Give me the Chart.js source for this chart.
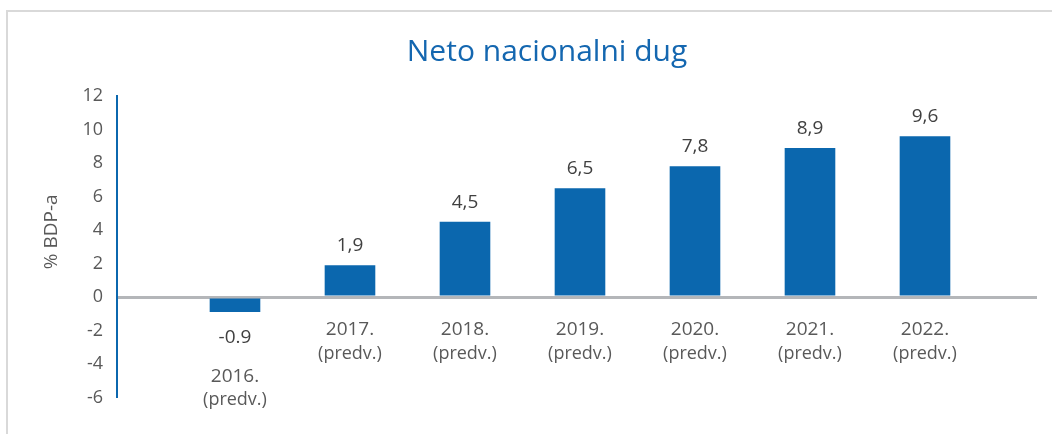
<!DOCTYPE html>
<html>
<head>
<meta charset="utf-8">
<script src="https://cdn.jsdelivr.net/npm/chart.js@4.4.1/dist/chart.umd.min.js"></script>
<style>
html, body { margin: 0; padding: 0; background: #ffffff; overflow: hidden; }
#wrap { position: relative; width: 1052px; height: 434px; }
#frame { position: absolute; left: 6px; top: 10px; width: 1100px; height: 500px;
  border-left: 2px solid #D9D9D9; border-top: 2px solid #D9D9D9; }
canvas { position: absolute; left: 0; top: 0; }
</style>
</head>
<body>
<div id="wrap"><div id="frame"></div><canvas id="c" width="1052" height="434"></canvas></div>
<script>
const chartTitle = 'Neto nacionalni dug';
const yAxisTitle = '% BDP-a';
const categories = ['2016.', '2017.', '2018.', '2019.', '2020.', '2021.', '2022.'];
const categoryNotes = ['(predv.)', '(predv.)', '(predv.)', '(predv.)', '(predv.)', '(predv.)', '(predv.)'];
const values = [-0.9, 1.9, 4.5, 6.5, 7.8, 8.9, 9.6];
const valueLabels = ['-0.9', '1,9', '4,5', '6,5', '7,8', '8,9', '9,6'];
const yTicks = [-6, -4, -2, 0, 2, 4, 6, 8, 10, 12];

const FONT = '"Open Sans", "Noto Sans", sans-serif';
const BAR_BLUE = '#0B67AE';
const TITLE_BLUE = '#1467B0';
const TEXT_GREY = '#595959';
const LABEL_GREY = '#404040';

const labelPlugin = {
  id: 'barLabels',
  afterDatasetsDraw(chart) {
    const ctx = chart.ctx;
    const meta = chart.getDatasetMeta(0);
    const yScale = chart.scales.y;
    const zero = yScale.getPixelForValue(0);
    ctx.save();
    ctx.textAlign = 'center';
    ctx.textBaseline = 'middle';
    meta.data.forEach((bar, i) => {
      const v = values[i];
      const px = bar.x;
      let labelY, yearY;
      if (v >= 0) {
        labelY = bar.y - 19.5;
        yearY = zero + 33;
      } else {
        labelY = bar.y + 26;
        yearY = labelY + 39;
      }
      ctx.font = '19px ' + FONT;
      ctx.fillStyle = LABEL_GREY;
      ctx.fillText(valueLabels[i], px, labelY);
      ctx.fillStyle = TEXT_GREY;
      ctx.fillText(categories[i], px, yearY);
      ctx.font = '18px ' + FONT;
      ctx.fillText(categoryNotes[i], px, yearY + (v >= 0 ? 24 : 22.5));
    });
    // y-axis title
    const ca = chart.chartArea;
    ctx.translate(52, (ca.top + ca.bottom) / 2 - 15);
    ctx.rotate(-Math.PI / 2);
    ctx.font = '19px ' + FONT;
    ctx.fillStyle = TEXT_GREY;
    ctx.fillText(yAxisTitle, 0, 0);
    ctx.restore();
  }
};

function build() {
  new Chart(document.getElementById('c'), {
    type: 'bar',
    data: {
      datasets: [{
        data: categories.map((c, i) => ({ x: i + 1, y: values[i] })),
        backgroundColor: BAR_BLUE,
        borderWidth: 0,
        barPercentage: 0.452,
        categoryPercentage: 1.0
      }]
    },
    options: {
      responsive: false,
      animation: false,
      devicePixelRatio: 1,
      layout: { padding: { left: 57, right: 15, top: 0, bottom: 36.5 } },
      plugins: {
        legend: { display: false },
        tooltip: { enabled: false },
        title: {
          display: true,
          text: chartTitle,
          color: TITLE_BLUE,
          font: { family: FONT, size: 30, weight: 'normal' },
          padding: { top: 34.5, bottom: 25.5 }
        }
      },
      scales: {
        x: {
          type: 'linear',
          display: false,
          offset: false,
          grid: { offset: false },
          min: -0.026,
          max: 7.974
        },
        y: {
          min: yTicks[0],
          max: yTicks[yTicks.length - 1],
          afterFit(scale) { scale.width = 60; },
          afterBuildTicks(scale) { scale.ticks = yTicks.map(v => ({ value: v })); },
          ticks: {
            stepSize: yTicks[1] - yTicks[0],
            color: TEXT_GREY,
            padding: 14,
            font: { family: FONT, size: 18 }
          },
          border: { display: true, color: BAR_BLUE, width: 2 },
          grid: {
            drawTicks: false,
            color: (c) => (c.tick && c.tick.value === 0 ? '#B4B6B9' : 'rgba(0,0,0,0)'),
            lineWidth: (c) => (c.tick && c.tick.value === 0 ? 3 : 1)
          }
        }
      }
    },
    plugins: [labelPlugin]
  });
}

if (document.fonts && document.fonts.load) {
  Promise.all([
    document.fonts.load('19px "Open Sans"'),
    document.fonts.load('30px "Open Sans"')
  ]).then(build, build);
} else {
  build();
}
</script>
</body>
</html>
